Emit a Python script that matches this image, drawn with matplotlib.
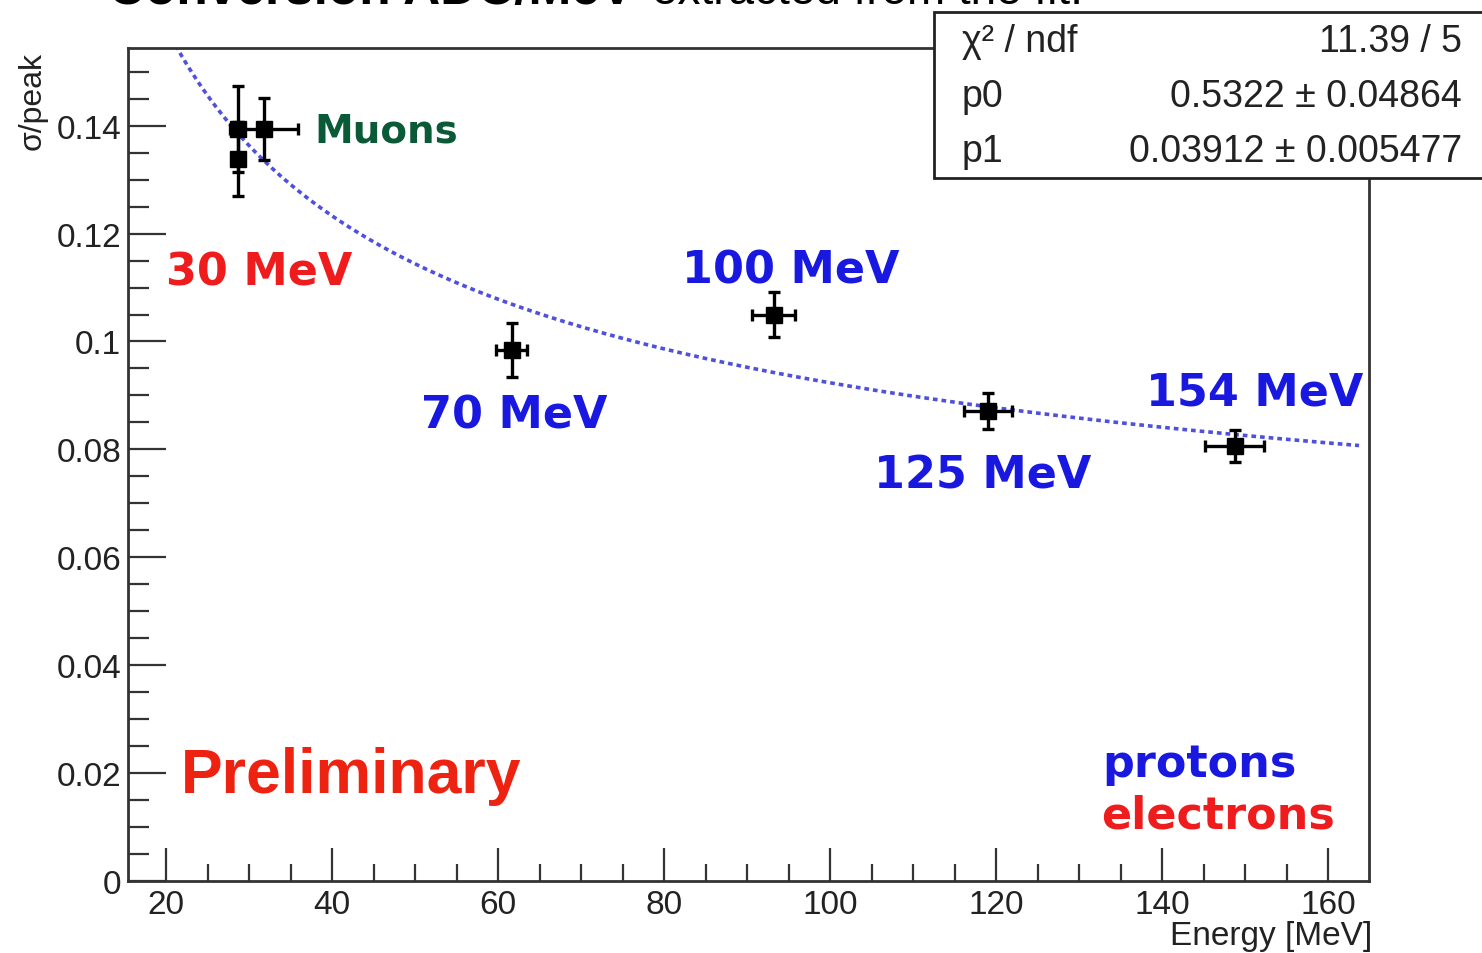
import numpy as np
import matplotlib
matplotlib.use("Agg")
import matplotlib.pyplot as plt
from matplotlib.patches import Rectangle
from matplotlib.ticker import MultipleLocator, FixedLocator

# Measured resolution points (sigma/peak vs beam energy)
energy = [28.7, 28.7, 31.8, 61.6, 93.2, 119.0, 148.7]
energy_err = [0.0, 0.0, 4.1, 1.9, 2.6, 2.85, 3.5]
sigma_peak = [0.1394, 0.1338, 0.1394, 0.0985, 0.1050, 0.0871, 0.0806]
sigma_peak_err = [0.0080, 0.0069, 0.0057, 0.0050, 0.0041, 0.0034, 0.0030]

# Fit results: f(E) = p0 / sqrt(E) + p1
p0, p0_err = 0.5322, 0.04864
p1, p1_err = 0.03912, 0.005477
chi2, ndf = 11.39, 5

x_ticks = [20, 40, 60, 80, 100, 120, 140, 160]
y_ticks = [0, 0.02, 0.04, 0.06, 0.08, 0.1, 0.12, 0.14]
y_tick_labels = ["0", "0.02", "0.04", "0.06", "0.08", "0.1", "0.12", "0.14"]

W, H = 1482, 954
fig = plt.figure(figsize=(W / 100, H / 100), dpi=100)
fig.patch.set_facecolor("white")

ax = fig.add_axes([128 / W, 1 - 882 / H, (1369 - 128) / W, (882 - 49) / H])
ax.set_xlim(15.4, 164.9)
ax.set_ylim(0, 0.1544)

for sp in ax.spines.values():
    sp.set_linewidth(2.0)
    sp.set_color("#333333")

tick_font = dict(family="Liberation Sans", size=24)
ax.xaxis.set_major_locator(FixedLocator(x_ticks))
ax.xaxis.set_minor_locator(MultipleLocator(5))
ax.yaxis.set_major_locator(FixedLocator(y_ticks))
ax.yaxis.set_minor_locator(MultipleLocator(0.005))
ax.set_xticklabels([str(t) for t in x_ticks], fontdict=tick_font, color="#222222")
ax.set_yticklabels(y_tick_labels, fontdict=tick_font, color="#222222")
ax.tick_params(axis="x", which="major", direction="in", length=24, width=1.6,
               color="#333333", pad=6, top=False)
ax.tick_params(axis="x", which="minor", direction="in", length=12, width=1.6,
               color="#333333", top=False)
ax.tick_params(axis="y", which="major", direction="in", length=27, width=1.6,
               color="#333333", pad=5, right=False)
ax.tick_params(axis="y", which="minor", direction="in", length=15, width=1.6,
               color="#333333", right=False)

# Fit curve
e_fit = np.linspace(15.4, 163.7, 600)
ax.plot(e_fit, p0 / np.sqrt(e_fit) + p1, color="#5050dc", lw=2.6,
        linestyle=(0, (1.3, 1.1)), zorder=2)

# Data points with error bars
ax.errorbar(energy, sigma_peak, xerr=energy_err, yerr=sigma_peak_err,
            fmt="s", color="black", ms=11.5, elinewidth=2.4, capsize=4.5,
            capthick=2.4, zorder=3)

bold = dict(family="DejaVu Sans", weight="bold")
ax.text(37.8, 0.1371, "Muons", color="#0b5a37", fontsize=28, va="baseline", **bold)
ax.text(20.0, 0.1106, "30 MeV", color="#ee1c1c", fontsize=32, va="baseline", **bold)
ax.text(82.1, 0.1109, "100 MeV", color="#1818e0", fontsize=32, va="baseline", **bold)
ax.text(50.7, 0.0841, "70 MeV", color="#1818e0", fontsize=32, va="baseline", **bold)
ax.text(138.0, 0.0883, "154 MeV", color="#1818e0", fontsize=32, va="baseline", **bold)
ax.text(105.3, 0.0730, "125 MeV", color="#1818e0", fontsize=32, va="baseline", **bold)
ax.text(132.8, 0.0194, "protons", color="#1818e0", fontsize=32, va="baseline", **bold)
ax.text(132.6, 0.0100, "electrons", color="#ee1c1c", fontsize=32, va="baseline", **bold)
ax.text(21.8, 0.0165, "Preliminary", color="#ee2211", fontsize=45,
        family="Liberation Sans", weight="bold", va="baseline")

# Axis titles
fig.text(33 / W, 1 - 52 / H, "σ/peak", rotation=90, ha="center", va="top",
         family="Liberation Sans", fontsize=23, color="#222222")
fig.text(1372 / W, 1 - 937 / H, "Energy [MeV]", ha="right", va="center",
         family="Liberation Sans", fontsize=24, color="#222222")

# Heading line running off the top edge
fig.text(108 / W, 1 - 4 / H, "Conversion ADC/MeV", ha="left", va="baseline",
         family="Liberation Sans", weight="bold", fontsize=37, color="black")
fig.text(652 / W, 1 - 4 / H, "extracted from the fit.", ha="left", va="baseline",
         family="Liberation Sans", fontsize=33, color="black")

# Fit statistics box
box = Rectangle((934 / W, 1 - 179 / H), 600 / W, 166 / H, transform=fig.transFigure,
                facecolor="white", edgecolor="#222222", lw=2.0, zorder=5)
fig.patches.append(box)
stat_font = dict(family="Liberation Sans", fontsize=27, color="#222222", zorder=6)
rows = [
    ("χ² / ndf", f"{chi2:.2f} / {ndf}", 42),
    ("p0", f"{p0:.4f} ± {p0_err:.5f}", 97),
    ("p1", f"{p1:.5f} ± {p1_err:.6f}", 152),
]
for name, val, yc in rows:
    fig.text(962 / W, 1 - yc / H, name, ha="left", va="center", **stat_font)
    fig.text(1462 / W, 1 - yc / H, val, ha="right", va="center", **stat_font)

fig.savefig("out.png", dpi=100)
